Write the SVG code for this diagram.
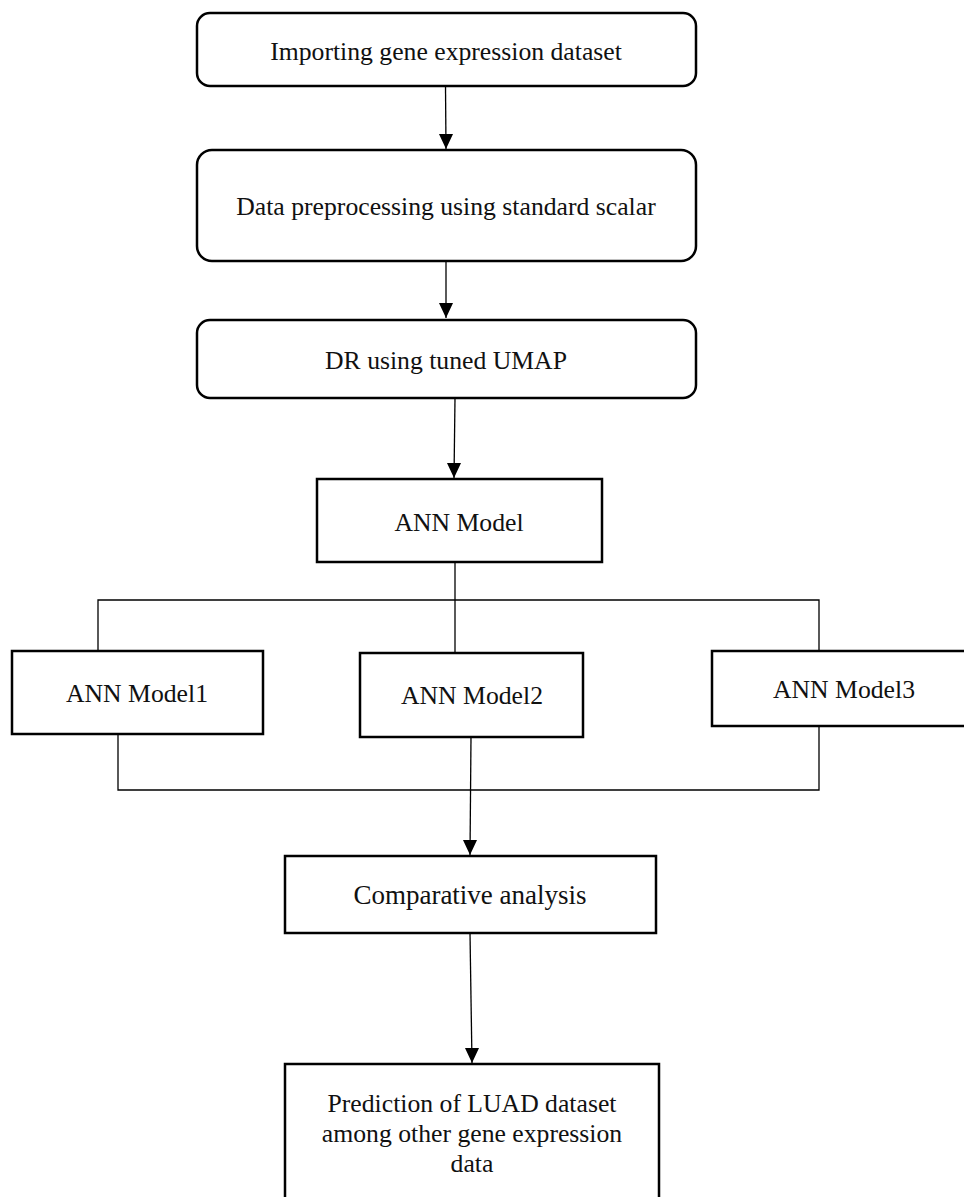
<svg xmlns="http://www.w3.org/2000/svg" width="964" height="1197" viewBox="0 0 964 1197">
<style>
.box{fill:#fff;stroke:#000;stroke-width:2.5}
.t{font-family:"Liberation Serif","Times New Roman",serif;font-size:25.7px;fill:#111;text-anchor:middle}
.c{fill:none;stroke:#000;stroke-width:1.3}
</style>
<defs>
<marker id="ah" markerWidth="14" markerHeight="15" refX="7" refY="15" orient="auto-start-reverse" markerUnits="userSpaceOnUse" viewBox="0 0 14 15">
<path d="M0,0 L14,0 L7,15 Z" fill="#000"/>
</marker>
</defs>
<rect width="964" height="1197" fill="#fff"/>
<g id="connectors">
<line class="c" x1="445.5" y1="86" x2="446" y2="149"/>
<path d="M446,134 L453,134 L446,149 L439,134 Z" fill="#000"/>
<line class="c" x1="446" y1="261" x2="446" y2="318"/>
<path d="M446,303 L453,303 L446,318 L439,303 Z" fill="#000"/>
<line class="c" x1="455" y1="398" x2="454" y2="478"/>
<path d="M454,463 L461,463 L454,478 L447,463 Z" fill="#000"/>
<line class="c" x1="455" y1="562" x2="455" y2="653"/>
<polyline class="c" points="98,651 98,600 819,600 819,651"/>
<polyline class="c" points="118,734 118,790 819,790 819,726"/>
<line class="c" x1="471" y1="737" x2="470" y2="855"/>
<path d="M470,840 L477,840 L470,855 L463,840 Z" fill="#000"/>
<line class="c" x1="470" y1="933" x2="472" y2="1063"/>
<path d="M472,1048 L479,1048 L472,1063 L465,1048 Z" fill="#000"/>
</g>
<g id="n1">
<rect class="box" x="197" y="13" width="499" height="73" rx="13"/>
<text class="t" x="446" y="60">Importing gene expression dataset</text>
</g>
<g id="n2">
<rect class="box" x="197" y="150" width="499" height="111" rx="15"/>
<text class="t" x="446" y="215">Data preprocessing using standard scalar</text>
</g>
<g id="n3">
<rect class="box" x="197" y="320" width="499" height="78" rx="13"/>
<text class="t" x="446" y="369">DR using tuned UMAP</text>
</g>
<g id="n4">
<rect class="box" x="317" y="479" width="285" height="83"/>
<text class="t" x="459" y="531">ANN Model</text>
</g>
<g id="n5">
<rect class="box" x="12" y="651" width="251" height="83"/>
<text class="t" x="137" y="702">ANN Model1</text>
</g>
<g id="n6">
<rect class="box" x="360" y="653" width="223" height="84"/>
<text class="t" x="472" y="704">ANN Model2</text>
</g>
<g id="n7">
<rect class="box" x="712" y="651" width="270" height="75"/>
<text class="t" x="844" y="698">ANN Model3</text>
</g>
<g id="n8">
<rect class="box" x="285" y="856" width="371" height="77"/>
<text class="t" x="470" y="904" style="font-size:27px">Comparative analysis</text>
</g>
<g id="n9">
<rect class="box" x="285" y="1064" width="374" height="150"/>
<text class="t" x="472" y="1112">Prediction of LUAD dataset</text>
<text class="t" x="472" y="1142">among other gene expression</text>
<text class="t" x="472" y="1172">data</text>
</g>
</svg>
